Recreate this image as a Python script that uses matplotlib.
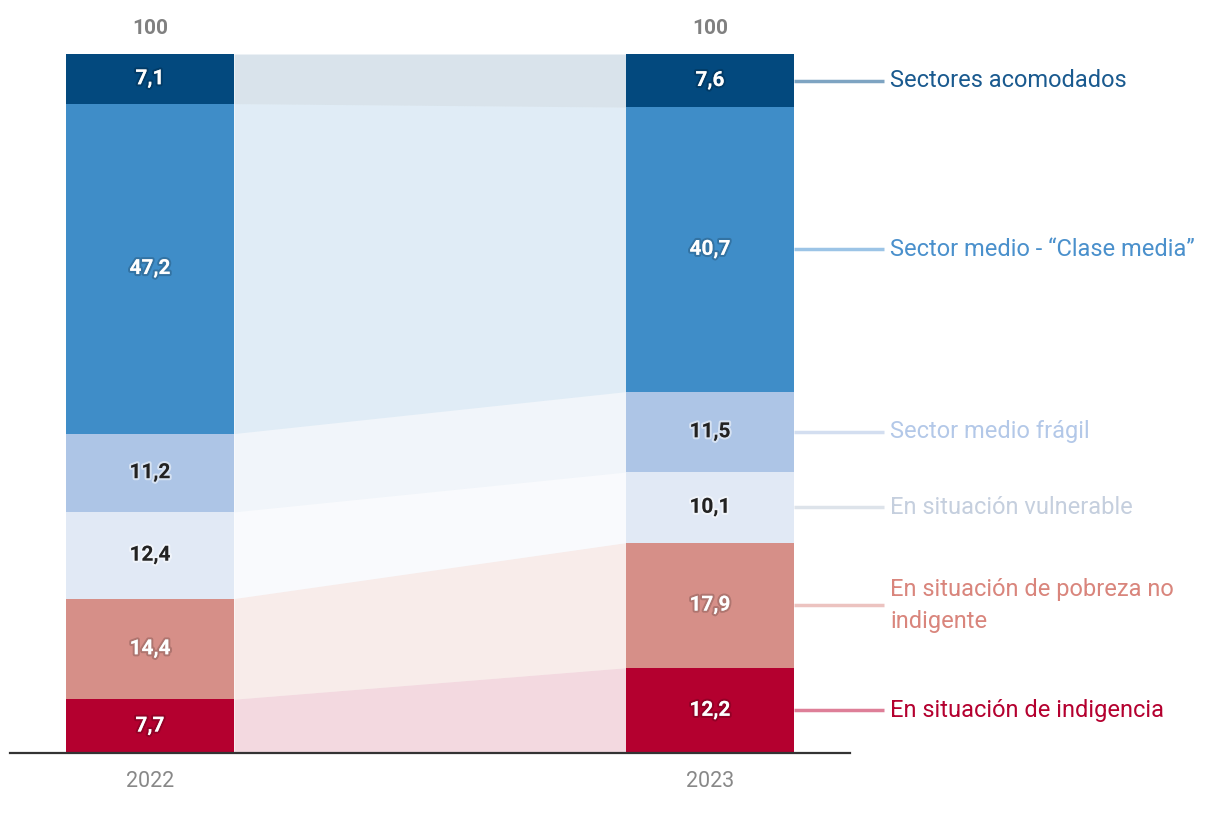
import numpy as np
import matplotlib.pyplot as plt
import matplotlib.patheffects as pe

plt.rcParams['font.family'] = ['Roboto', 'DejaVu Sans']

# data (percent of population), bottom segment first
years = ['2022', '2023']
categories = ['En situación de indigencia',
              'En situación de pobreza no\nindigente',
              'En situación vulnerable',
              'Sector medio frágil',
              'Sector medio - “Clase media”',
              'Sectores acomodados']
v2022 = [7.7, 14.4, 12.4, 11.2, 47.2, 7.1]
v2023 = [12.2, 17.9, 10.1, 11.5, 40.7, 7.6]
totals = ['100', '100']

# styles
bar_colors = ['#b4002f', '#d68f88', '#e1e9f5', '#adc5e6', '#3f8dc8', '#03497e']
text_colors = ['#b4002f', '#d9857c', '#c5cfde', '#b3c8e8', '#4a90cc', '#1a5a8f']
line_colors = ['#de7f98', '#ecc3c0', '#dde3ea', '#d3def0', '#9cc4e6', '#7ea4c2']
dark_value = [False, False, True, True, False, False]
band_alpha = [0.15, 0.17, 0.2, 0.17, 0.16, 0.15]

fig = plt.figure(figsize=(12.2, 8.16), dpi=100)
ax = fig.add_axes([10 / 1220, 63 / 816, 840 / 1220, 699 / 816])

xs = np.array([0, 1])
w = 0.3
bottoms = np.zeros(2)
for i, cat in enumerate(categories):
    vals = np.array([v2022[i], v2023[i]])
    ax.bar(xs, vals, width=w, bottom=bottoms, color=bar_colors[i], linewidth=0, zorder=3)
    # connecting band
    ax.fill_between([w / 2, 1 - w / 2], [bottoms[0], bottoms[1]],
                    [bottoms[0] + vals[0], bottoms[1] + vals[1]],
                    color=bar_colors[i], alpha=band_alpha[i], linewidth=0, zorder=1)
    # value labels
    for j in range(2):
        c = '#222222' if dark_value[i] else 'white'
        glow = (1, 1, 1, 0.5) if dark_value[i] else (0, 0, 0, 0.18)
        ax.text(xs[j], bottoms[j] + vals[j] / 2, f'{vals[j]:.1f}'.replace('.', ','),
                ha='center', va='center', fontsize=15, fontweight='bold', color=c,
                zorder=5, path_effects=[pe.withStroke(linewidth=3, foreground=glow)])
    # right-hand labels with connector
    ymid = bottoms[1] + vals[1] / 2
    ax.plot([1 + w / 2, 1.311], [ymid, ymid], color=line_colors[i], lw=2.5,
            solid_capstyle='butt', clip_on=False, zorder=2)
    ax.text(1.322, ymid, cat, ha='left', va='center', fontsize=17,
            color=text_colors[i], linespacing=1.5, clip_on=False)
    bottoms = bottoms + vals

for j in range(2):
    ax.text(xs[j], bottoms[j] + 3.6, totals[j], ha='center', va='center',
            fontsize=15, fontweight='bold', color='#808080')

ax.set_xlim(-0.25, 1.25)
ax.set_ylim(0, 100)
ax.set_xticks(xs)
ax.set_xticklabels(years, fontsize=15.5, color='#888888')
ax.tick_params(axis='x', length=0, pad=13)
ax.set_yticks([])
for s in ['left', 'right', 'top']:
    ax.spines[s].set_visible(False)
ax.spines['bottom'].set_color('#333333')
ax.spines['bottom'].set_linewidth(1.6)
ax.spines['bottom'].set_zorder(4)

fig.savefig('out.png', dpi=100)
